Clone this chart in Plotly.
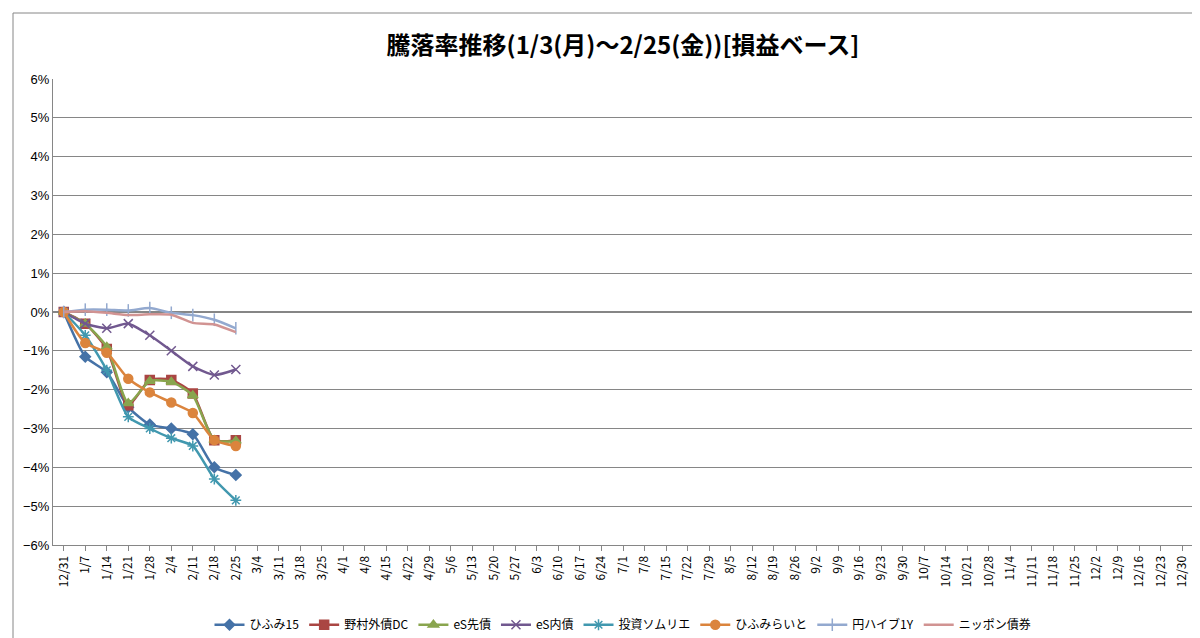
import plotly.graph_objects as go

dates = ["12/31","1/7","1/14","1/21","1/28","2/4","2/11","2/18","2/25","3/4","3/11","3/18","3/25","4/1","4/8","4/15","4/22","4/29","5/6","5/13","5/20","5/27","6/3","6/10","6/17","6/24","7/1","7/8","7/15","7/22","7/29","8/5","8/12","8/19","8/26","9/2","9/9","9/16","9/23","9/30","10/7","10/14","10/21","10/28","11/4","11/11","11/18","11/25","12/2","12/9","12/16","12/23","12/30"]
hifumi15 = [0, -1.15, -1.55, -2.45, -2.9, -3.0, -3.15, -4.0, -4.2]
nomura_dc = [0, -0.3, -0.95, -2.4, -1.75, -1.75, -2.1, -3.3, -3.3]
es_saki = [0, -0.3, -0.9, -2.35, -1.78, -1.8, -2.15, -3.3, -3.32]
es_nai = [0, -0.3, -0.42, -0.3, -0.6, -1.0, -1.4, -1.62, -1.48]
sommelier = [0, -0.6, -1.5, -2.7, -3.0, -3.25, -3.45, -4.3, -4.85]
hifumi_raito = [0, -0.8, -1.05, -1.72, -2.07, -2.33, -2.6, -3.3, -3.45]
en_hybrid = [0, 0.06, 0.06, 0.04, 0.1, -0.02, -0.08, -0.2, -0.42]
nippon = [0, 0.02, -0.02, -0.08, -0.06, -0.07, -0.28, -0.32, -0.52]

series = [
    ("ひふみ15", hifumi15, "#4572a7", "diamond", 8),
    ("野村外債DC", nomura_dc, "#aa4643", "square", 9),
    ("eS先債", es_saki, "#89a54e", "triangle-up", 9),
    ("eS内債", es_nai, "#71588f", "x-thin", 9),
    ("投資ソムリエ", sommelier, "#4198af", "asterisk", 9),
    ("ひふみらいと", hifumi_raito, "#db843d", "circle", 9),
    ("円ハイブ1Y", en_hybrid, "#93a9cf", "line-ns", 9),
    ("ニッポン債券", nippon, "#d19392", None, 0),
]

fig = go.Figure()
for name, vals, col, sym, sz in series:
    pct = [v / 100 for v in vals]
    mk = dict(color=col, size=sz, symbol=sym, line=dict(color=col, width=1.5)) if sym else dict(size=0)
    fig.add_trace(go.Scatter(x=dates[:len(vals)], y=pct, name=name,
                             mode="lines+markers" if sym else "lines",
                             line=dict(color=col, width=2.5, shape="spline", smoothing=0.6),
                             marker=mk))

fig.update_layout(
    width=1200, height=638,
    paper_bgcolor="white", plot_bgcolor="white",
    margin=dict(l=45, r=15, t=71, b=101, autoexpand=False),
    title=dict(text="<b>騰落率推移(1/3(月)～2/25(金))[損益ベース]</b>", x=0.5, xref="paper",
               y=1 - 38 / 638, yref="container", xanchor="center", yanchor="middle",
               font=dict(family="Noto Sans CJK JP", size=24, color="black")),
    font=dict(family="Noto Sans CJK JP", size=12, color="black"),
    legend=dict(orientation="h", x=0.5, xanchor="center", y=-0.14, yanchor="top",
                font=dict(size=12)),
    showlegend=True,
    shapes=[dict(type="rect", xref="paper", yref="paper",
                 x0=-40 / 1140, x1=1 + 12 / 1140, y0=-96 / 466, y1=1 + 66 / 466,
                 line=dict(color="#868686", width=1))],
)
fig.update_xaxes(type="category", categoryorder="array", categoryarray=dates, automargin=False,
                 range=[-0.5, len(dates) - 0.5], tickangle=-90, tickfont=dict(family="Noto Sans CJK JP", size=12),
                 showgrid=False, showline=True, linecolor="#868686", ticks="outside", ticklen=5, tickcolor="#868686")
fig.update_yaxes(range=[-0.06, 0.06], dtick=0.01, tickformat=".0%", showgrid=True, gridcolor="#868686",
                 automargin=False,
                 zeroline=True, zerolinecolor="#868686", showline=True, linecolor="#868686",
                 tickfont=dict(family="Liberation Sans", size=13))
fig.write_html("out.html")
